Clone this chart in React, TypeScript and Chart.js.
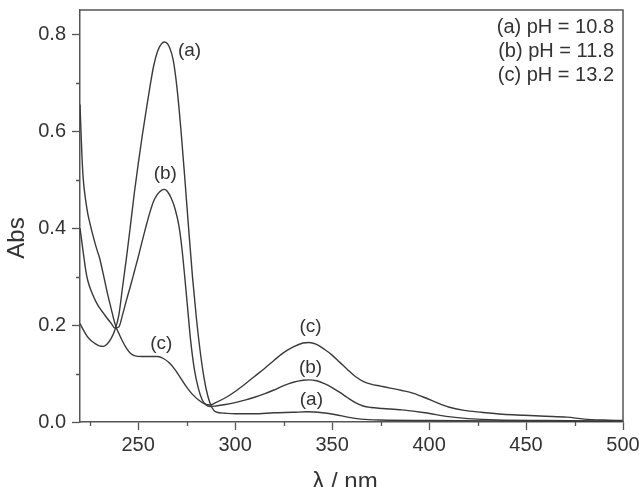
import { useEffect, useRef } from "react";
import { Chart, registerables } from "chart.js";

Chart.register(...registerables);

// Absorption spectra at three pH values (wavelength in nm, absorbance)
const wavelengthA = [220, 222, 224, 226, 228, 230, 232, 234, 236, 238, 240, 242, 244, 246, 248, 250, 252, 254, 256, 258, 260, 262, 263.5, 265, 266, 268, 270, 272, 274, 276, 278, 280, 282, 284, 286, 288, 290, 295, 300, 310, 320, 330, 337, 345, 352, 358, 365, 375, 400, 450, 500];
const absA = [0.203, 0.188, 0.175, 0.167, 0.161, 0.157, 0.156, 0.161, 0.172, 0.19, 0.22, 0.28, 0.34, 0.405, 0.472, 0.532, 0.588, 0.64, 0.69, 0.735, 0.765, 0.78, 0.784, 0.781, 0.774, 0.748, 0.69, 0.605, 0.505, 0.4, 0.3, 0.215, 0.145, 0.09, 0.052, 0.03, 0.021, 0.018, 0.017, 0.017, 0.019, 0.02, 0.021, 0.019, 0.015, 0.01, 0.006, 0.004, 0.003, 0.002, 0.001];

const wavelengthB = [220, 221, 222, 223, 224, 226, 228, 230, 232, 234, 236, 238, 240, 242, 244, 246, 248, 250, 252, 254, 256, 258, 260, 262, 263.5, 265, 267, 269, 271, 272.5, 274, 275.5, 277, 279, 281, 283, 285, 287, 290, 295, 300, 305, 310, 315, 320, 325, 330, 335, 338, 342, 346, 350, 354, 358, 362, 366, 370, 376, 386, 398, 410, 420, 435, 460, 500];
const absB = [0.4, 0.37, 0.34, 0.312, 0.292, 0.268, 0.25, 0.236, 0.225, 0.214, 0.204, 0.194, 0.196, 0.222, 0.252, 0.28, 0.31, 0.34, 0.372, 0.403, 0.432, 0.456, 0.47, 0.478, 0.48, 0.476, 0.462, 0.44, 0.405, 0.36, 0.3, 0.235, 0.17, 0.108, 0.07, 0.046, 0.035, 0.032, 0.033, 0.036, 0.04, 0.045, 0.051, 0.058, 0.066, 0.075, 0.082, 0.086, 0.087, 0.085, 0.079, 0.071, 0.061, 0.05, 0.04, 0.033, 0.03, 0.028, 0.025, 0.019, 0.011, 0.007, 0.004, 0.003, 0.002];

const wavelengthC = [220, 220.5, 221, 221.7, 223, 224, 225, 227, 229, 230, 232, 234, 236, 238, 239, 240, 242, 244, 246, 248, 252, 256, 260, 263, 266, 269, 272, 275, 278, 281, 284, 287, 290, 295, 300, 305, 310, 315, 320, 325, 330, 335, 338, 342, 346, 350, 354, 358, 362, 366, 370, 375, 380, 386, 392, 398, 404, 410, 418, 427, 438, 449, 460, 471, 480, 490, 500];
const absC = [0.655, 0.6, 0.55, 0.5, 0.455, 0.43, 0.412, 0.38, 0.352, 0.34, 0.305, 0.268, 0.235, 0.203, 0.192, 0.183, 0.166, 0.152, 0.142, 0.137, 0.135, 0.135, 0.135, 0.131, 0.122, 0.108, 0.09, 0.072, 0.057, 0.046, 0.038, 0.035, 0.04, 0.05, 0.063, 0.078, 0.094, 0.11, 0.127, 0.143, 0.155, 0.163, 0.164, 0.16, 0.15, 0.138, 0.123, 0.108, 0.094, 0.084, 0.078, 0.074, 0.07, 0.065, 0.059, 0.05, 0.04, 0.031, 0.024, 0.02, 0.016, 0.014, 0.012, 0.01, 0.006, 0.004, 0.003];

// Curve tags placed next to the traces (data coordinates)
const tagTexts = ["(a)", "(b)", "(c)", "(c)", "(b)", "(a)"];
const tagX = [276.5, 264, 261.9, 338.9, 338.9, 339.3];
const tagY = [0.766, 0.512, 0.162, 0.196, 0.112, 0.045];

const legendLines = ["(a) pH = 10.8", "(b) pH = 11.8", "(c) pH = 13.2"];

const xMinorTicks = [225, 275, 325, 375, 425, 475];
const yMinorTicks = [0.1, 0.3, 0.5, 0.7];

const FONT = "'Liberation Sans', Arial, Helvetica, sans-serif";
const TEXT = "#333333";
const AXIS = "#555555";
const LINE = "#3a3a3a";

const toPoints = (xs: number[], ys: number[]) => xs.map((x, i) => ({ x, y: ys[i] }));

const decorations = {
  id: "decorations",
  afterDraw(chart: any) {
    const { ctx, chartArea } = chart;
    const xs = chart.scales.x;
    const ys = chart.scales.y;
    const { left, right, top, bottom } = chartArea;
    ctx.save();

    // top and right frame
    ctx.strokeStyle = AXIS;
    ctx.lineWidth = 1.5;
    ctx.beginPath();
    ctx.moveTo(left, top);
    ctx.lineTo(right, top);
    ctx.lineTo(right, bottom);
    ctx.stroke();

    // minor ticks
    ctx.lineWidth = 1.3;
    ctx.beginPath();
    xMinorTicks.forEach((v) => {
      const px = Math.round(xs.getPixelForValue(v)) + 0.5;
      ctx.moveTo(px, bottom);
      ctx.lineTo(px, bottom + 4);
    });
    yMinorTicks.forEach((v) => {
      const py = Math.round(ys.getPixelForValue(v)) + 0.5;
      ctx.moveTo(left, py);
      ctx.lineTo(left - 4, py);
    });
    ctx.stroke();

    // curve tags
    ctx.fillStyle = TEXT;
    ctx.font = `19px ${FONT}`;
    ctx.textAlign = "center";
    ctx.textBaseline = "middle";
    tagTexts.forEach((t, i) => {
      ctx.fillText(t, xs.getPixelForValue(tagX[i]), ys.getPixelForValue(tagY[i]));
    });

    // legend text
    ctx.font = `20px ${FONT}`;
    ctx.textAlign = "right";
    legendLines.forEach((t, i) => {
      ctx.fillText(t, right - 9, top + 17 + i * 24);
    });

    // axis titles
    ctx.font = `24px ${FONT}`;
    ctx.textAlign = "center";
    ctx.textBaseline = "alphabetic";
    ctx.fillText("λ / nm", 345, 489);
    ctx.save();
    ctx.translate(24, 238);
    ctx.rotate(-Math.PI / 2);
    ctx.fillText("Abs", 0, 0);
    ctx.restore();

    ctx.restore();
  },
};

export default function App() {
  const canvasRef = useRef<HTMLCanvasElement | null>(null);

  useEffect(() => {
    if (!canvasRef.current) return;
    const lineStyle = {
      borderColor: LINE,
      borderWidth: 1.4,
      pointRadius: 0,
      fill: false,
      tension: 0.4,
      cubicInterpolationMode: "monotone" as const,
    };
    const chart = new Chart(canvasRef.current, {
      type: "line",
      data: {
        datasets: [
          { label: "(a) pH = 10.8", data: toPoints(wavelengthA, absA), ...lineStyle },
          { label: "(b) pH = 11.8", data: toPoints(wavelengthB, absB), ...lineStyle },
          { label: "(c) pH = 13.2", data: toPoints(wavelengthC, absC), ...lineStyle },
        ],
      },
      options: {
        responsive: false,
        animation: false,
        devicePixelRatio: 1,
        layout: { padding: { top: 10, right: 16, left: 0, bottom: 0 } },
        plugins: {
          legend: { display: false },
          tooltip: { enabled: false },
        },
        scales: {
          x: {
            type: "linear",
            min: 220,
            max: 500,
            ticks: {
              stepSize: 50,
              includeBounds: false,
              autoSkip: false,
              maxRotation: 0,
              color: TEXT,
              padding: 3,
              font: { family: FONT, size: 20 },
            },
            grid: {
              drawOnChartArea: false,
              drawTicks: true,
              tickLength: 8,
              tickColor: AXIS,
              tickWidth: 1.3,
            },
            border: { color: AXIS, width: 1.5 },
            afterFit: (s: any) => {
              s.height = 65;
              s.paddingLeft = 0;
              s.paddingRight = 0;
            },
          },
          y: {
            type: "linear",
            min: 0,
            max: 0.85,
            ticks: {
              stepSize: 0.2,
              includeBounds: false,
              color: TEXT,
              padding: 6,
              font: { family: FONT, size: 20 },
              callback: (v: any) => Number(v).toFixed(1),
            },
            grid: {
              drawOnChartArea: false,
              drawTicks: true,
              tickLength: 8,
              tickColor: AXIS,
              tickWidth: 1.3,
            },
            border: { color: AXIS, width: 1.5 },
            afterFit: (s: any) => {
              s.width = 80;
              s.paddingTop = 0;
              s.paddingBottom = 0;
            },
          },
        },
      },
      plugins: [decorations],
    });
    return () => chart.destroy();
  }, []);

  return (
    <div style={{ position: "fixed", left: 0, top: 0, width: 639, height: 487, background: "#fff" }}>
      <canvas ref={canvasRef} width={639} height={487} style={{ display: "block" }} />
    </div>
  );
}
